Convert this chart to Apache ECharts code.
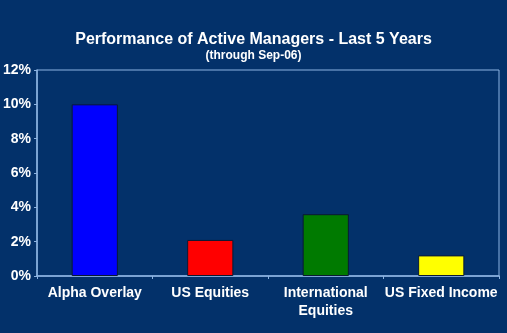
<!DOCTYPE html>
<html><head><meta charset="utf-8">
<script src="https://cdn.jsdelivr.net/npm/echarts@6/dist/echarts.min.js"></script>
<style>html,body{margin:0;padding:0;background:#03316A;}#c{width:507px;height:333px;}</style>
</head><body><div id="c"></div>
<script>
var categories = ['Alpha Overlay', 'US Equities', 'International\nEquities', 'US Fixed Income'];
var values = [10.0, 2.1, 3.6, 1.2];
var barColors = ['#0000FF', '#FF0000', '#007A00', '#FFFF00'];
var titleText = 'Performance of Active Managers - Last 5 Years';
var subtitleText = '(through Sep-06)';

var chart = echarts.init(document.getElementById('c'));
chart.setOption({
  backgroundColor: '#03316A',
  animation: false,
  title: {
    text: titleText, subtext: subtitleText, left: 'center', top: 27, itemGap: 2,
    textStyle: {color: '#FFFFFF', fontFamily: 'Liberation Sans, Arial', fontWeight: 'bold', fontSize: 16},
    subtextStyle: {color: '#FFFFFF', fontFamily: 'Liberation Sans, Arial', fontWeight: 'bold', fontSize: 12}
  },
  grid: {left: 35, right: 8, top: 70, bottom: 57, show: true, borderColor: '#8DB4E2', borderWidth: 1, backgroundColor: 'transparent'},
  xAxis: {
    type: 'category', data: categories,
    axisLine: {lineStyle: {color: '#8DB4E2', width: 1.5}},
    axisTick: {show: true, alignWithLabel: false, length: 3, lineStyle: {color: '#8DB4E2'}},
    axisLabel: {color: '#FFFFFF', fontFamily: 'Liberation Sans, Arial', fontWeight: 'bold', fontSize: 14, margin: 8, lineHeight: 18, interval: 0}
  },
  yAxis: {
    type: 'value', min: 0, max: 12, interval: 2,
    splitLine: {show: false},
    axisLine: {show: true, lineStyle: {color: '#8DB4E2', width: 1.5}},
    axisTick: {show: true, length: 3, lineStyle: {color: '#8DB4E2'}},
    axisLabel: {color: '#FFFFFF', fontFamily: 'Liberation Sans, Arial', fontWeight: 'bold', fontSize: 14, margin: 6, formatter: '{value}%'}
  },
  series: [{
    type: 'bar', barWidth: '40%',
    data: values.map(function(v, i){ return {value: v, itemStyle: {color: barColors[i]}}; }),
    itemStyle: {borderColor: '#0A1A33', borderWidth: 1}
  }]
});
</script></body></html>
